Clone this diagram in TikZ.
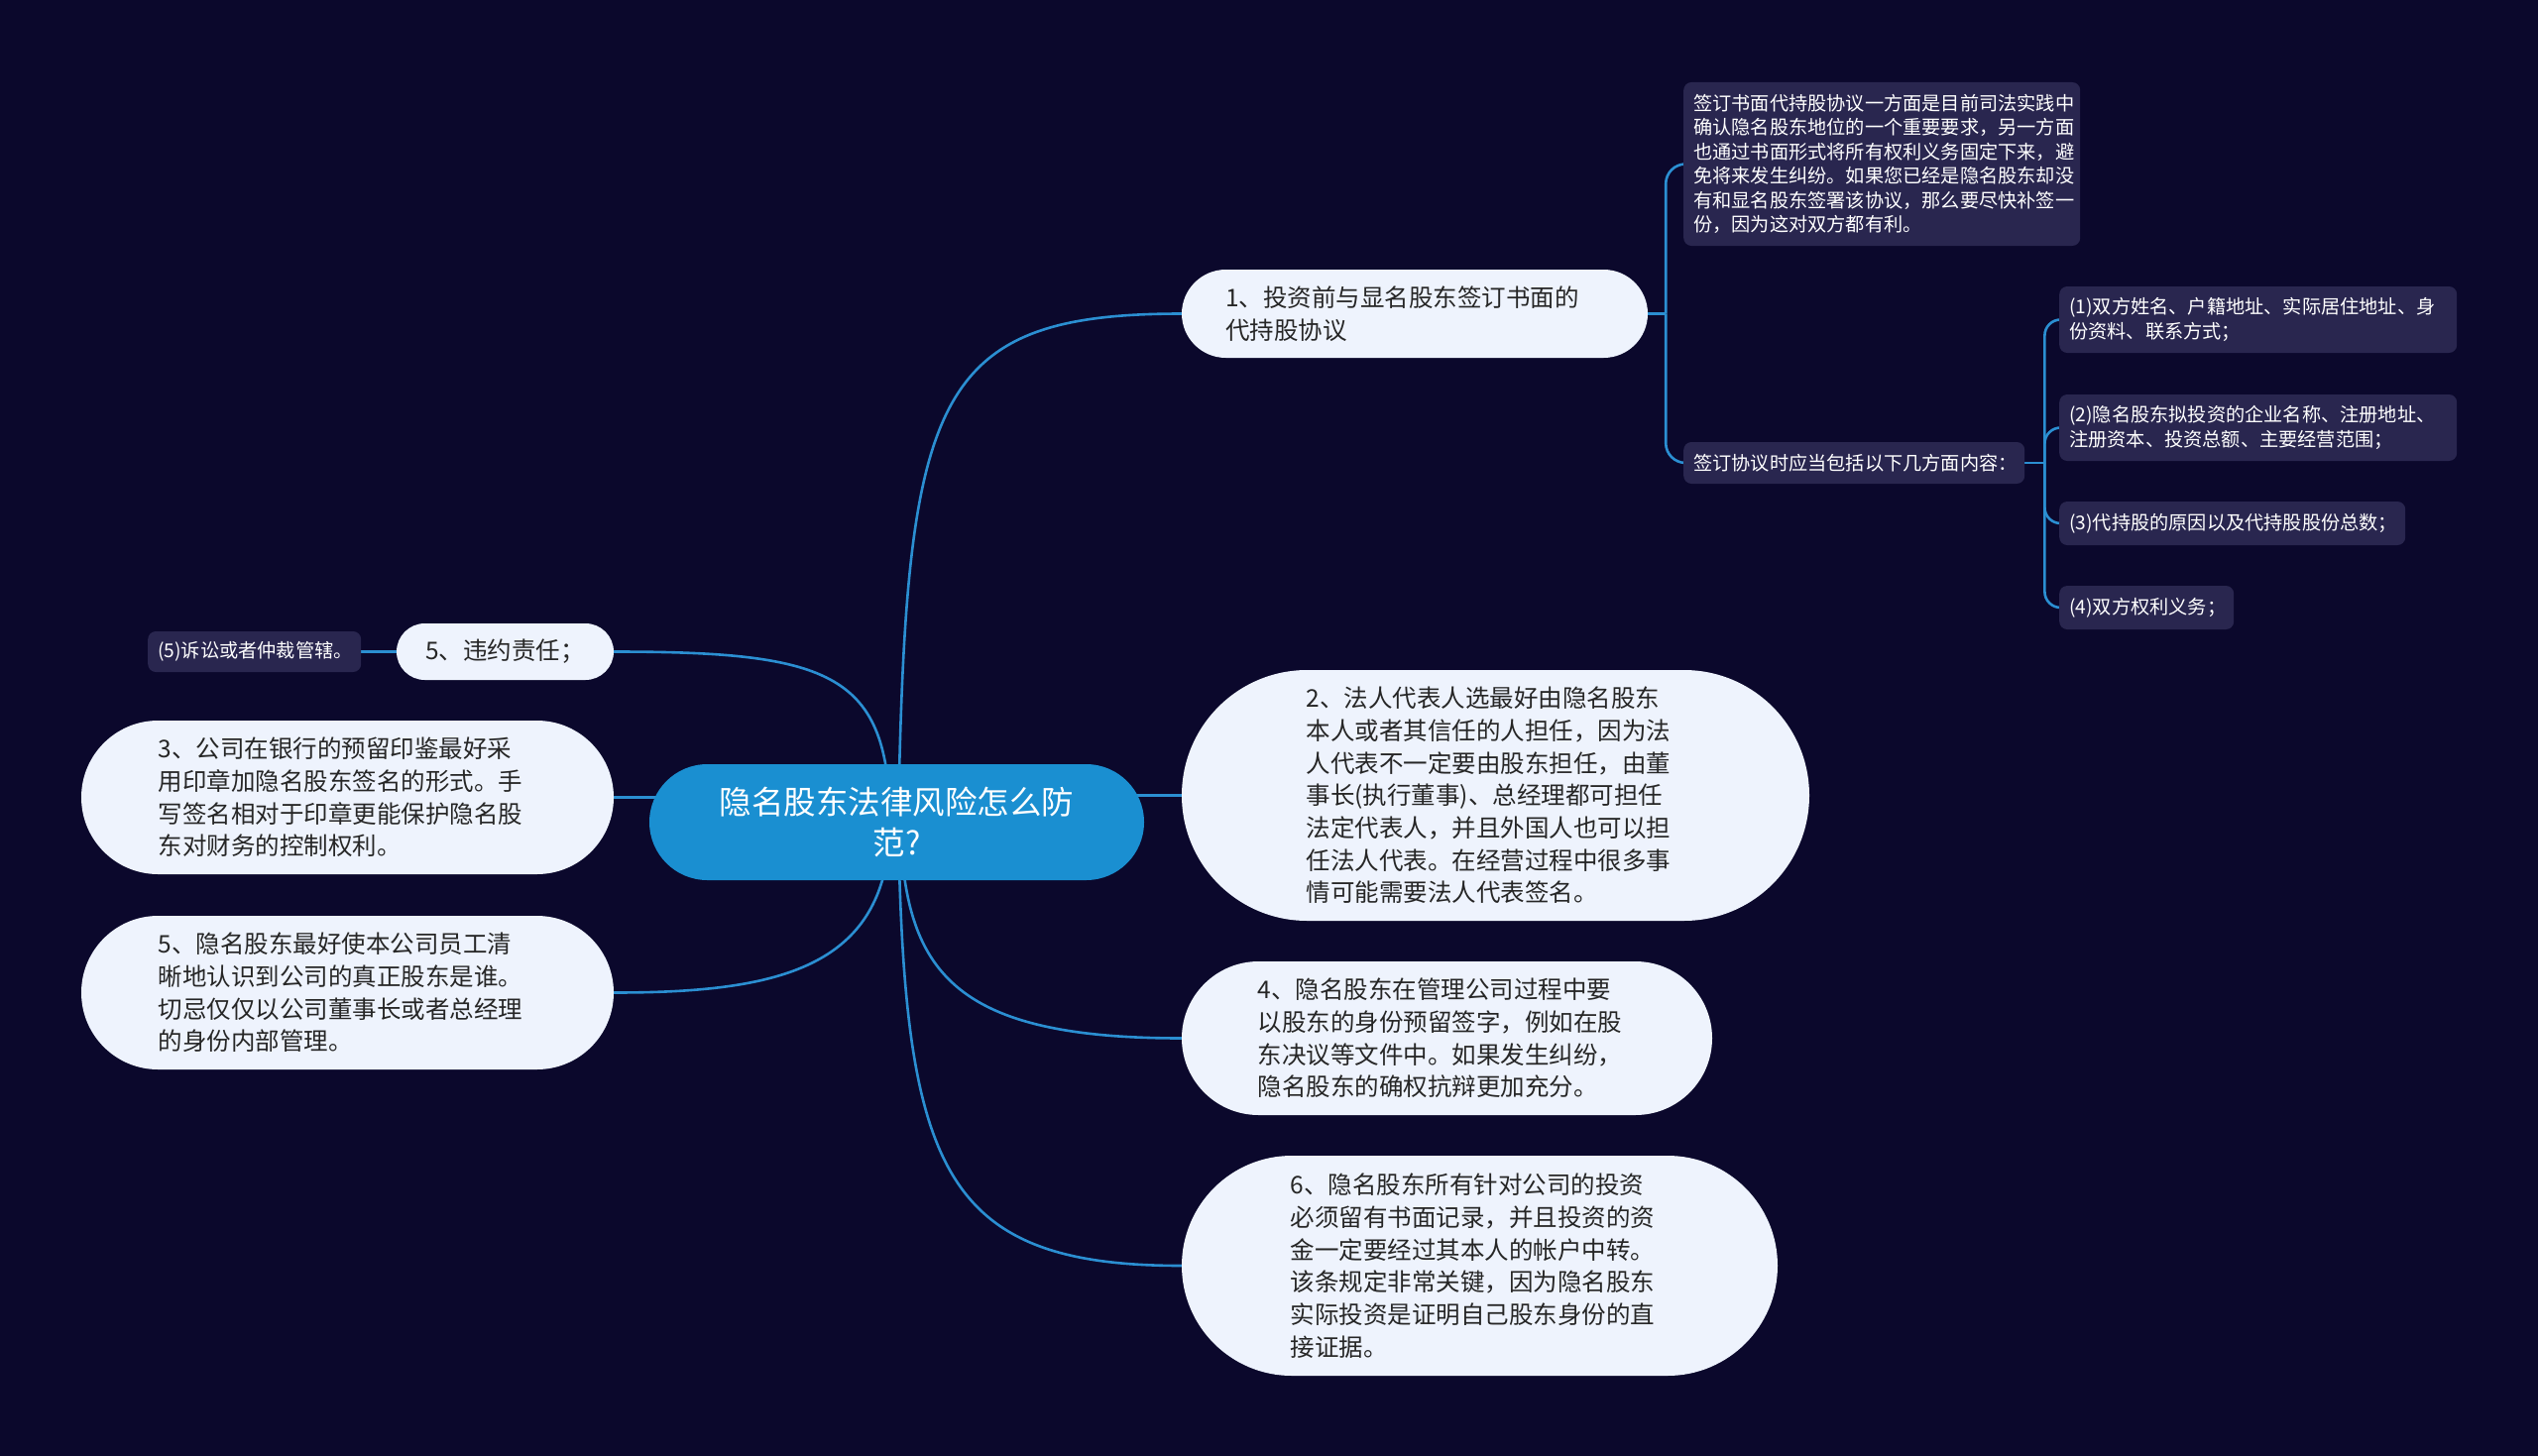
\documentclass[tikz,border=0pt]{standalone}
\usepackage{fontspec}
\setmainfont{Noto Sans CJK SC}
\usetikzlibrary{calc}
\definecolor{bgc}{HTML}{0B082C}
\definecolor{centralfill}{HTML}{1A8FD1}
\definecolor{topicfill}{HTML}{EEF3FD}
\definecolor{boxfill}{HTML}{29264F}
\definecolor{linec}{HTML}{2B8FD2}
\definecolor{darktext}{HTML}{262626}
\pgfdeclarelayer{back}
\pgfdeclarelayer{lines}
\pgfsetlayers{back,lines,main}
\begin{document}
\begin{tikzpicture}[x=1pt,y=-1pt,
  conn/.style={draw=linec, line width=2.6pt},
  topic/.style={rectangle, fill=topicfill, text=darktext, inner sep=0pt, align=left, text width=382pt, font=\fontsize{24.5}{32.7}\selectfont},
  pill/.style={rectangle, fill=topicfill, text=darktext, inner sep=0pt, align=center, font=\fontsize{24.5}{32.7}\selectfont},
  centraltopic/.style={rectangle, fill=centralfill, text=white, inner sep=0pt, align=center, font=\fontsize{32.5}{41}\selectfont},
  smallbox/.style={rectangle, fill=boxfill, text=white, rounded corners=8pt, inner xsep=10pt, inner ysep=0pt, align=left, anchor=west, font=\fontsize{19.2}{24.5}\selectfont},
]
\useasboundingbox (0,0) rectangle (2560,1469);
\begin{pgfonlayer}{back}
\fill[bgc] (0,0) rectangle (2560,1469);
\end{pgfonlayer}

% central
\node[centraltopic, minimum width=499pt, minimum height=117pt, rounded corners=58.5pt] (c) at (904.5,829.5) {隐名股东法律风险怎么防\\范?};

% right topics
\node[topic, minimum width=470pt, minimum height=89pt, rounded corners=44.5pt] (n1) at (1427,316.5) {1、投资前与显名股东签订书面的\\代持股协议};
\node[topic, minimum width=633pt, minimum height=253pt, rounded corners=126.5pt] (n2) at (1508.5,802.5) {2、法人代表人选最好由隐名股东\\本人或者其信任的人担任，因为法\\人代表不一定要由股东担任，由董\\事长(执行董事)、总经理都可担任\\法定代表人，并且外国人也可以担\\任法人代表。在经营过程中很多事\\情可能需要法人代表签名。};
\node[topic, minimum width=535pt, minimum height=155pt, rounded corners=77.5pt] (n4) at (1459.5,1047.5) {4、隐名股东在管理公司过程中要\\以股东的身份预留签字，例如在股\\东决议等文件中。如果发生纠纷，\\隐名股东的确权抗辩更加充分。};
\node[topic, minimum width=601pt, minimum height=222pt, rounded corners=111pt] (n6) at (1492.5,1277) {6、隐名股东所有针对公司的投资\\必须留有书面记录，并且投资的资\\金一定要经过其本人的帐户中转。\\该条规定非常关键，因为隐名股东\\实际投资是证明自己股东身份的直\\接证据。};

% left topics
\node[pill, minimum width=219pt, minimum height=57pt, rounded corners=28.5pt] (v5) at (509.5,657.5) {5、违约责任；};
\node[topic, minimum width=537pt, minimum height=155pt, rounded corners=77.5pt] (n3) at (350.5,804.5) {3、公司在银行的预留印鉴最好采\\用印章加隐名股东签名的形式。手\\写签名相对于印章更能保护隐名股\\东对财务的控制权利。};
\node[topic, minimum width=537pt, minimum height=155pt, rounded corners=77.5pt] (n5) at (350.5,1001.5) {5、隐名股东最好使本公司员工清\\晰地认识到公司的真正股东是谁。\\切忌仅仅以公司董事长或者总经理\\的身份内部管理。};

% small boxes
\node[smallbox, text width=380pt, minimum height=165pt] (d1) at (1698,165.5) {签订书面代持股协议一方面是目前司法实践中\\确认隐名股东地位的一个重要要求，另一方面\\也通过书面形式将所有权利义务固定下来，避\\免将来发生纠纷。如果您已经是隐名股东却没\\有和显名股东签署该协议，那么要尽快补签一\\份，因为这对双方都有利。};
\node[smallbox, text width=324pt, minimum height=42pt] (d2) at (1698,467) {签订协议时应当包括以下几方面内容：};
\node[smallbox, text width=381pt, minimum height=67pt] (k1) at (2077,322.5) {(1)双方姓名、户籍地址、实际居住地址、身\\份资料、联系方式；};
\node[smallbox, text width=381pt, minimum height=67pt] (k2) at (2077,431.5) {(2)隐名股东拟投资的企业名称、注册地址、\\注册资本、投资总额、主要经营范围；};
\node[smallbox, text width=329pt, minimum height=44pt] (k3) at (2077,528) {(3)代持股的原因以及代持股股份总数；};
\node[smallbox, text width=156pt, minimum height=44pt] (k4) at (2077,613) {(4)双方权利义务；};
\node[smallbox, text width=195pt, minimum height=41pt] (s5) at (149,657.5) {(5)诉讼或者仲裁管辖。};

\coordinate (j1) at ([xshift=18pt]n1.east);
\coordinate (j2) at ([xshift=20pt]d2.east);

\begin{pgfonlayer}{lines}
\draw[conn] ([xshift=1.5pt]c.center) .. controls +(8,-429.5) and +(-252,0) .. (n1.west);
\draw[conn] (c.center |- n2.west) -- (n2.west);
\draw[conn] ([xshift=3.5pt]c.center) .. controls +(4,150.5) and +(-232,0) .. (n4.west);
\draw[conn] ([xshift=1.5pt]c.center) .. controls +(6,350.5) and +(-242,0) .. (n6.west);
\draw[conn] ([xshift=-6.5pt]c.center) .. controls +(-2,-149.5) and +(221,0) .. (v5.east);
\draw[conn] (c.center |- n3.east) -- (n3.east);
\draw[conn] ([xshift=-6.5pt]c.center) .. controls +(-2,145.5) and +(171,0) .. (n5.east);
\draw[conn] (v5.west) -- (s5.east);
\draw[conn] (n1.east) -- (j1);
\draw[conn, rounded corners=20pt] (j1) |- (d1.west);
\draw[conn, rounded corners=20pt] (j1) |- (d2.west);
\draw[conn] (d2.east) -- (j2);
\draw[conn, rounded corners=16pt] (j2) |- (k1.west);
\draw[conn, rounded corners=16pt] (j2) |- (k2.west);
\draw[conn, rounded corners=16pt] (j2) |- (k3.west);
\draw[conn, rounded corners=16pt] (j2) |- (k4.west);
\end{pgfonlayer}
\end{tikzpicture}
\end{document}
